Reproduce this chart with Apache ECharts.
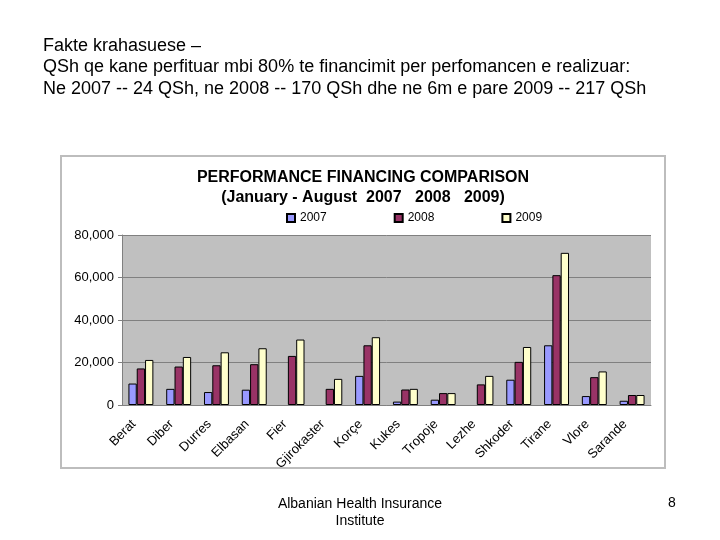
<!DOCTYPE html>
<html><head><meta charset="utf-8">
<script src="https://cdn.jsdelivr.net/npm/echarts@6/dist/echarts.min.js"></script>
<style>html,body{margin:0;padding:0;background:#fff}#c{width:720px;height:540px}</style>
</head><body><div id="c"></div>
<script>
const categories = ['Berat','Diber','Durres','Elbasan','Fier','Gjirokaster','Korçe','Kukes','Tropoje','Lezhe','Shkoder','Tirane','Vlore','Sarande'];
const values2007 = [10100, 7600, 6100, 7200, null, null, 13700, 1600, 2500, null, 11900, 28100, 4200, 2000];
const values2008 = [17200, 18100, 18700, 19200, 23100, 7600, 28100, 7300, 5600, 9700, 20300, 61100, 13100, 4700];
const values2009 = [21200, 22600, 24800, 26700, 30800, 12300, 31900, 7600, 5600, 13700, 27300, 71600, 15800, 4700];
const yTicks = [0, 20000, 40000, 60000, 80000];
const headerLines = ['Fakte krahasuese –', 'QSh qe kane perfituar mbi 80% te financimit per perfomancen e realizuar:', 'Ne 2007 -- 24 QSh, ne 2008 -- 170 QSh dhe ne 6m e pare 2009 -- 217 QSh'];

const chart = echarts.init(document.getElementById('c'));
const font = 'Liberation Sans, Arial, sans-serif';
const mk = (name, data, color) => ({
  name, type: 'bar', data, barGap: '0%', barCategoryGap: '34%',
  itemStyle: { color, borderColor: '#000', borderWidth: 1 }
});
chart.setOption({
  backgroundColor: '#fff',
  animation: false,
  textStyle: { fontFamily: font },
  title: {
    text: 'PERFORMANCE FINANCING COMPARISON\n(January - August  2007   2008   2009)',
    left: 358, top: 163, textAlign: 'center',
    textStyle: { fontSize: 16, fontWeight: 'bold', color: '#000', lineHeight: 20, fontFamily: font }
  },
  legend: {
    top: 207, left: 281, itemWidth: 8, itemHeight: 8, itemGap: 67, icon: 'rect',
    textStyle: { fontSize: 12, color: '#000', fontFamily: font }
  },
  grid: { left: 122, right: 69, top: 235, bottom: 135, show: true, backgroundColor: '#c0c0c0', borderWidth: 0 },
  xAxis: {
    type: 'category', data: categories,
    axisLine: { lineStyle: { color: '#808080' } },
    axisTick: { lineStyle: { color: '#808080' }, length: 4 },
    axisLabel: { rotate: 45, fontSize: 13, color: '#000', margin: 10, fontFamily: font, interval: 0, padding: [0, 10, 0, 0] }
  },
  yAxis: {
    type: 'value', min: yTicks[0], max: yTicks[yTicks.length - 1], interval: yTicks[1] - yTicks[0],
    axisLine: { show: true, lineStyle: { color: '#808080' } },
    axisTick: { show: true, length: 4, lineStyle: { color: '#808080' } },
    splitLine: { lineStyle: { color: '#808080', width: 1 } },
    axisLabel: { fontSize: 13, color: '#000', margin: 8, fontFamily: font,
      formatter: v => v.toLocaleString('en-US') }
  },
  series: [mk('2007', values2007, '#9999ff'), mk('2008', values2008, '#993366'), mk('2009', values2009, '#ffffcc')],
  graphic: [
    { type: 'rect', shape: { x: 61, y: 156, width: 604, height: 312 }, z: -10,
      style: { fill: '#fff', stroke: '#bdbdbd', lineWidth: 2 } },
    { type: 'text', left: 43, top: 35, style: { text: headerLines.join('\n'), font: '18px ' + font, fill: '#000', lineHeight: 21.5 } },
    { type: 'text', x: 360, y: 496, style: { text: 'Albanian Health Insurance\nInstitute', font: '14px ' + font, fill: '#000', align: 'center', lineHeight: 17 } },
    { type: 'text', x: 672, y: 496, style: { text: '8', font: '14px ' + font, fill: '#000', align: 'center' } }
  ]
});
</script></body></html>
